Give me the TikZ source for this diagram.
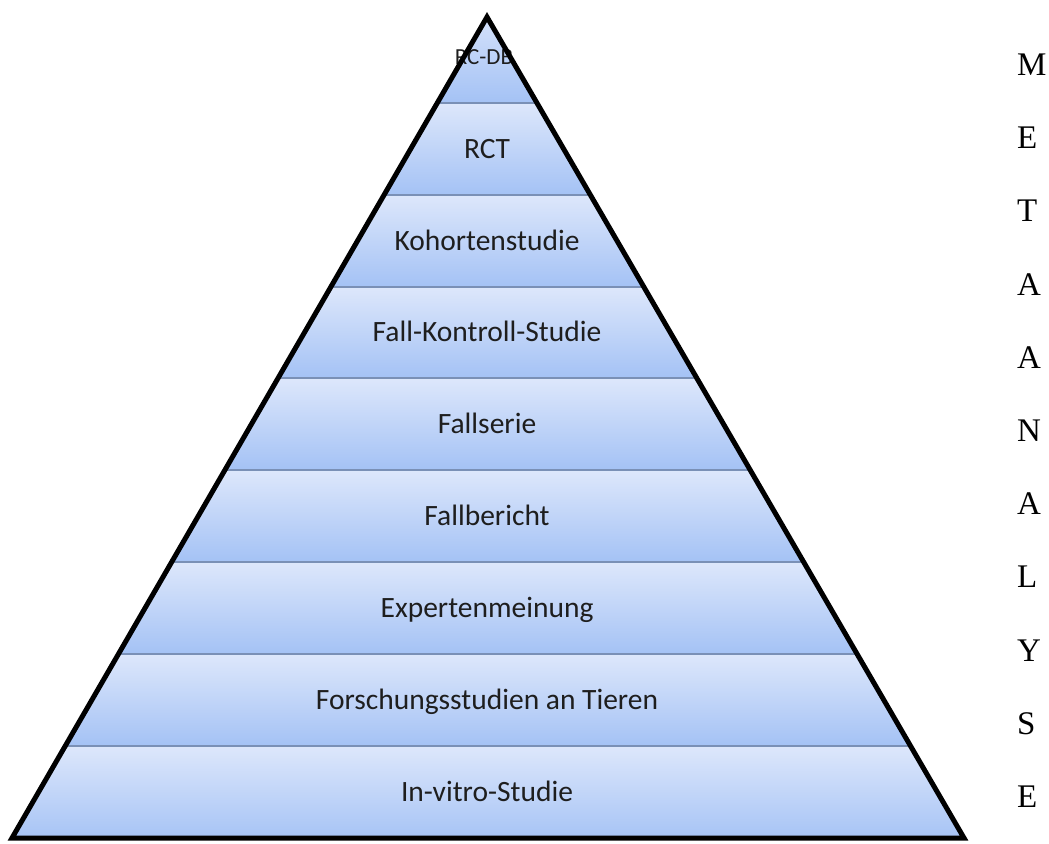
\documentclass[tikz,border=0pt]{standalone}
\usepackage{fontspec}
\setmainfont{Liberation Serif}
\newfontfamily\stufenfont{Carlito}
\usetikzlibrary{calc}
\definecolor{bandoben}{HTML}{DDE7FB}
\definecolor{bandunten}{HTML}{A4C2F5}
\definecolor{bandlinie}{HTML}{7A90B6}
\definecolor{stufentext}{HTML}{1E1E1E}
\tikzset{
  band/.style={top color=bandoben, bottom color=bandunten, draw=none},
  trenner/.style={draw=bandlinie, line width=1.6pt},
  stufe/.style={font=\stufenfont\fontsize{29.5}{34}\selectfont, text=stufentext, anchor=base, inner sep=0pt},
  buchstabe/.style={font=\fontsize{33}{38}\selectfont, anchor=base west, inner sep=0pt},
}

\begin{document}
\begin{tikzpicture}[x=1pt, y=-1pt]
		%%%%% START %%%%%
		\useasboundingbox (0,0) rectangle (1049,843);
		
		\coordinate (spitze) at (487,17);
		\coordinate (links) at (12,838);
		\coordinate (rechts) at (964,838);
		
		\begin{scope}
			\clip (spitze) -- (links) -- (rechts) -- cycle;
			\shade[band] (0,0) rectangle (1049,103);
			\shade[band] (0,103) rectangle (1049,195);
			\shade[band] (0,195) rectangle (1049,287);
			\shade[band] (0,287) rectangle (1049,378);
			\shade[band] (0,378) rectangle (1049,470);
			\shade[band] (0,470) rectangle (1049,562);
			\shade[band] (0,562) rectangle (1049,654);
			\shade[band] (0,654) rectangle (1049,746);
			\shade[band] (0,746) rectangle (1049,843);
			
			\draw[trenner] (0,103) -- (1049,103);
			\draw[trenner] (0,195) -- (1049,195);
			\draw[trenner] (0,287) -- (1049,287);
			\draw[trenner] (0,378) -- (1049,378);
			\draw[trenner] (0,470) -- (1049,470);
			\draw[trenner] (0,562) -- (1049,562);
			\draw[trenner] (0,654) -- (1049,654);
			\draw[trenner] (0,746) -- (1049,746);
		\end{scope}
		
		\node[stufe, font=\stufenfont\fontsize{23}{27}\selectfont] (rcdb) at (484,64) {RC-DB};
		\node[stufe] (rct) at (487,158) {RCT};
		\node[stufe] (kohorte) at (487,250) {Kohortenstudie};
		\node[stufe] (fallkontrolle) at (487,341) {Fall-Kontroll-Studie};
		\node[stufe] (fallserie) at (487,433) {Fallserie};
		\node[stufe] (fallbericht) at (487,525) {Fallbericht};
		\node[stufe] (experten) at (487,617) {Expertenmeinung};
		\node[stufe] (tiere) at (487,709) {Forschungsstudien an Tieren};
		\node[stufe] (invitro) at (487,801) {In-vitro-Studie};
		
		\draw[line width=5pt, line join=miter] (spitze) -- (links) -- (rechts) -- cycle;
		
		\node[buchstabe] (m) at (1017,75) {M};
		\node[buchstabe] (e1) at (1017,148) {E};
		\node[buchstabe] (t) at (1017,221) {T};
		\node[buchstabe] (a1) at (1017,295) {A};
		\node[buchstabe] (a2) at (1017,368) {A};
		\node[buchstabe] (n) at (1017,441) {N};
		\node[buchstabe] (a3) at (1017,514) {A};
		\node[buchstabe] (l) at (1017,587) {L};
		\node[buchstabe] (y) at (1017,661) {Y};
		\node[buchstabe] (s) at (1017,734) {S};
		\node[buchstabe] (e2) at (1017,807) {E};
		
		%%%%% END %%%%%
\end{tikzpicture}
\end{document}
